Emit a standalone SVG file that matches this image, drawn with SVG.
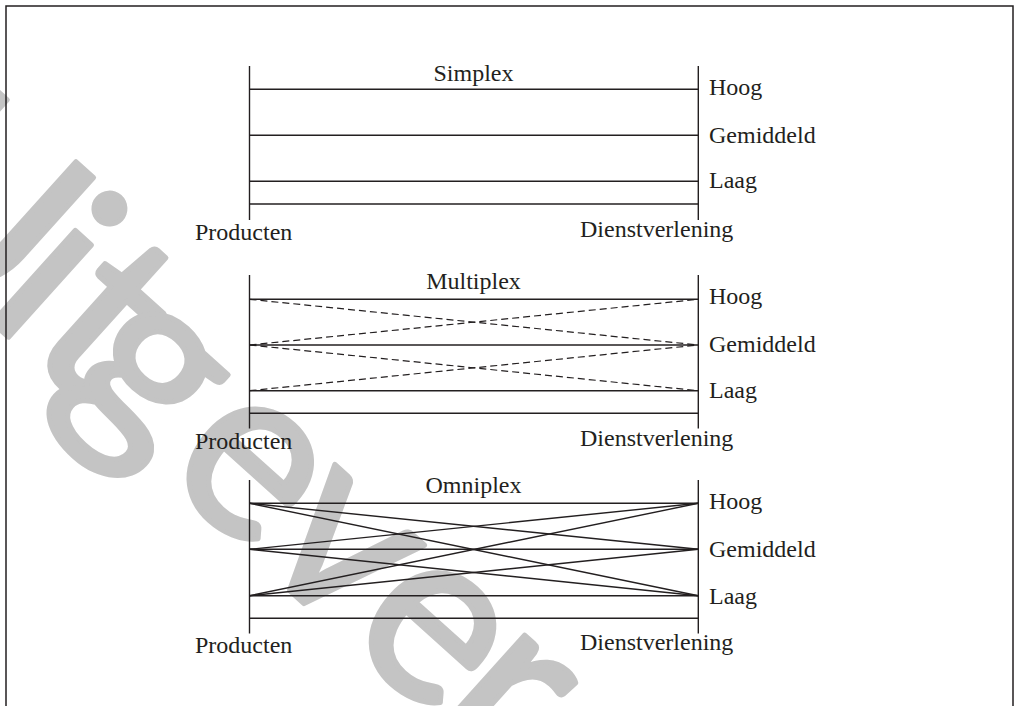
<svg xmlns="http://www.w3.org/2000/svg" width="1020" height="706" viewBox="0 0 1020 706">
  <style>
    .lbl { font-family: "Liberation Serif", "Times New Roman", serif; font-size: 24px; fill: #231f20; }
    .mid { text-anchor: middle; }
    .axis { stroke: #231f20; stroke-width: 1.4; fill: none; }
    .link { stroke: #231f20; stroke-width: 1.4; fill: none; }
    .dash { stroke: #231f20; stroke-width: 1.2; fill: none; stroke-dasharray: 7 4; }
    .mark { font-family: "Lato", "Open Sans", sans-serif; font-weight: normal; font-size: 245px; fill: #c4c4c4; stroke: #c4c4c4; stroke-width: 5; stroke-linejoin: round; text-anchor: middle; }
  </style>

  <rect width="1020" height="706" fill="#ffffff"/>

  <!-- publisher watermark, laid under the figure -->
  <g id="watermark">
    <text class="mark" transform="rotate(42)" x="118.5 221 293 362 499 620 744 842" y="245">Uitgever</text>
  </g>

  <!-- outer frame -->
  <path d="M6,706 V6 H1013 V706" stroke="#231f20" stroke-width="1.5" fill="none"/>

  <!-- Simplex panel -->
  <g id="panel-simplex">
    <line class="axis" x1="249.5" y1="66" x2="249.5" y2="220"/>
    <line class="axis" x1="698.3" y1="66" x2="698.3" y2="220"/>
    <text class="lbl mid" x="473.5" y="81">Simplex</text>
    <text class="lbl" x="709" y="95">Hoog</text>
    <text class="lbl" x="709" y="142.5">Gemiddeld</text>
    <text class="lbl" x="709" y="188.3">Laag</text>
    <text class="lbl" x="195" y="240">Producten</text>
    <text class="lbl" x="580" y="237">Dienstverlening</text>
  </g>

  <!-- Multiplex panel -->
  <g id="panel-multiplex">
    <line class="axis" x1="249.5" y1="275" x2="249.5" y2="428.5"/>
    <line class="axis" x1="698.3" y1="275" x2="698.3" y2="428.5"/>
    <text class="lbl mid" x="473.5" y="289">Multiplex</text>
    <text class="lbl" x="709" y="304">Hoog</text>
    <text class="lbl" x="709" y="351.7">Gemiddeld</text>
    <text class="lbl" x="709" y="397.7">Laag</text>
    <text class="lbl" x="195" y="449">Producten</text>
    <text class="lbl" x="580" y="446">Dienstverlening</text>
  </g>

  <!-- Omniplex panel -->
  <g id="panel-omniplex">
    <line class="axis" x1="249.5" y1="480" x2="249.5" y2="633.5"/>
    <line class="axis" x1="698.3" y1="480" x2="698.3" y2="633.5"/>
    <text class="lbl mid" x="473.5" y="493">Omniplex</text>
    <text class="lbl" x="709" y="509.3">Hoog</text>
    <text class="lbl" x="709" y="556.7">Gemiddeld</text>
    <text class="lbl" x="709" y="604">Laag</text>
    <text class="lbl" x="195" y="653.3">Producten</text>
    <text class="lbl" x="580" y="650">Dienstverlening</text>
  </g>

  <!-- links between the product side and the service side -->
  <g id="connectors">
    <!-- simplex: one level to the same level -->
    <line class="link" x1="249.5" y1="89.3" x2="698.3" y2="89.3"/>
    <line class="link" x1="249.5" y1="135.3" x2="698.3" y2="135.3"/>
    <line class="link" x1="249.5" y1="181.3" x2="698.3" y2="181.3"/>
    <line class="link" x1="249.5" y1="204" x2="698.3" y2="204"/>

    <!-- multiplex: same level plus neighbouring levels (dashed) -->
    <line class="link" x1="249.5" y1="299.3" x2="698.3" y2="299.3"/>
    <line class="link" x1="249.5" y1="345" x2="698.3" y2="345"/>
    <line class="link" x1="249.5" y1="390.7" x2="698.3" y2="390.7"/>
    <line class="link" x1="249.5" y1="413.3" x2="698.3" y2="413.3"/>
    <line class="dash" x1="249.5" y1="299.3" x2="698.3" y2="345"/>
    <line class="dash" x1="249.5" y1="345" x2="698.3" y2="299.3"/>
    <line class="dash" x1="249.5" y1="345" x2="698.3" y2="390.7"/>
    <line class="dash" x1="249.5" y1="390.7" x2="698.3" y2="345"/>

    <!-- omniplex: every level to every level -->
    <line class="link" x1="249.5" y1="503.3" x2="698.3" y2="503.3"/>
    <line class="link" x1="249.5" y1="549.3" x2="698.3" y2="549.3"/>
    <line class="link" x1="249.5" y1="595.7" x2="698.3" y2="595.7"/>
    <line class="link" x1="249.5" y1="618.3" x2="698.3" y2="618.3"/>
    <line class="link" x1="249.5" y1="503.3" x2="698.3" y2="549.3"/>
    <line class="link" x1="249.5" y1="503.3" x2="698.3" y2="595.7"/>
    <line class="link" x1="249.5" y1="549.3" x2="698.3" y2="503.3"/>
    <line class="link" x1="249.5" y1="549.3" x2="698.3" y2="595.7"/>
    <line class="link" x1="249.5" y1="595.7" x2="698.3" y2="503.3"/>
    <line class="link" x1="249.5" y1="595.7" x2="698.3" y2="549.3"/>
  </g>
</svg>
